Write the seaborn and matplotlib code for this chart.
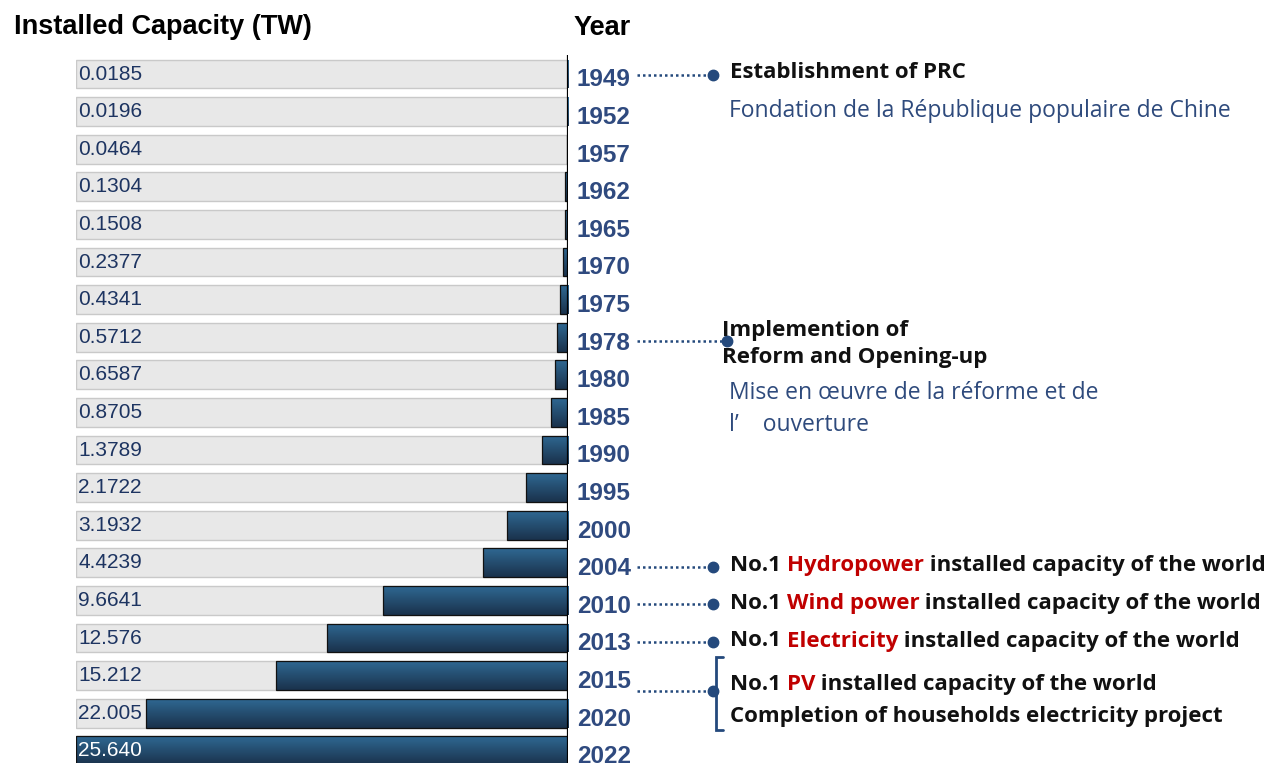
import matplotlib
matplotlib.use("Agg")
import matplotlib.pyplot as plt
import matplotlib.colors as mcolors
from matplotlib import transforms
import numpy as np
import pandas as pd
import seaborn as sns

# chart data
years = ["1949", "1952", "1957", "1962", "1965", "1970", "1975", "1978", "1980", "1985",
         "1990", "1995", "2000", "2004", "2010", "2013", "2015", "2020", "2022"]
capacity = [0.0185, 0.0196, 0.0464, 0.1304, 0.1508, 0.2377, 0.4341, 0.5712, 0.6587, 0.8705,
            1.3789, 2.1722, 3.1932, 4.4239, 9.6641, 12.576, 15.212, 22.005, 25.640]
capacity_labels = ["0.0185", "0.0196", "0.0464", "0.1304", "0.1508", "0.2377", "0.4341", "0.5712",
                   "0.6587", "0.8705", "1.3789", "2.1722", "3.1932", "4.4239", "9.6641", "12.576",
                   "15.212", "22.005", "25.640"]

RED = "#c00000"
INK = "#111111"
single_events = {
    "2004": [("No.1 ", INK), ("Hydropower", RED), (" installed capacity of the world", INK)],
    "2010": [("No.1 ", INK), ("Wind power", RED), (" installed capacity of the world", INK)],
    "2013": [("No.1 ", INK), ("Electricity", RED), (" installed capacity of the world", INK)],
}
pv_line = [("No.1 ", INK), ("PV", RED), (" installed capacity of the world", INK)]
household_line = "Completion of households electricity project"

df = pd.DataFrame({"year": years, "capacity": capacity})
df["full"] = df["capacity"].max()

W, H = 1277, 763
sns.set_theme(style="white")
plt.rcParams["font.family"] = ["Liberation Sans", "DejaVu Sans"]
fig = plt.figure(figsize=(W / 100, H / 100), dpi=100)
fig.patch.set_facecolor("white")

ax = fig.add_axes([76 / W, 0, (568 - 76) / W, (763 - 55) / H])
sns.barplot(data=df, x="full", y="year", orient="h", color="#e8e8e8", edgecolor="#c9c9c9",
            linewidth=1, width=0.77, ax=ax, saturation=1)
sns.barplot(data=df, x="capacity", y="year", orient="h", color="#24506f", edgecolor="#111111",
            linewidth=0.9, width=0.77, ax=ax, saturation=1)

# vertical gradient on the capacity bars
cmap = mcolors.LinearSegmentedColormap.from_list("bar", ["#2f6892", "#1a324c"])
grad = np.linspace(0, 1, 64).reshape(-1, 1)
for p in ax.containers[1]:
    x0, y0, w, h = p.get_x(), p.get_y(), p.get_width(), p.get_height()
    im = ax.imshow(grad, cmap=cmap, extent=(x0, x0 + w, y0 + h, y0), origin="upper",
                   aspect="auto", zorder=p.get_zorder() + 0.1, interpolation="bilinear")
    im.set_clip_path(p)
    p.set_facecolor("none")
    p.set_zorder(p.get_zorder() + 0.2)

xmax = df["capacity"].max()
ax.set_xlim(xmax, 0)
ax.set_ylim((763 - 74) / 37.6, -(74 - 55) / 37.6)
ax.axis("off")
ax.axvline(0, color="black", lw=1.6, zorder=5)

ytr = ax.get_yaxis_transform()
for i, (yr, lab) in enumerate(zip(years, capacity_labels)):
    col = "white" if i == len(years) - 1 else "#1d3461"
    ax.text(0.005, i, lab, transform=ytr, ha="left", va="center", fontsize=15, color=col, zorder=6)
    ax.text(1.0, i, yr, transform=transforms.offset_copy(ytr, fig, x=9, y=-6, units="dots"),
            ha="left", va="center", fontsize=17.5, fontweight="bold", color="#2f4a7f",
            clip_on=False)

fig.text(14 / W, 1 - 27 / H, "Installed Capacity (TW)", fontsize=19.5, fontweight="bold",
         ha="left", va="center", color="black")
fig.text(574 / W, 1 - 28 / H, "Year", fontsize=19.5, fontweight="bold", ha="left", va="center",
         color="black")

# annotations: x in figure pixels, y in bar rows (text nudged down a few pixels)
bt = transforms.blended_transform_factory(fig.transFigure, ax.transData)
tt = transforms.offset_copy(bt, fig, x=0, y=-3, units="dots")
ANN = ["Open Sans", "DejaVu Sans"]
LINE_C = "#24497c"
FR_C = "#2e4a7c"


def fx(px):
    return px / W


def connector(y, x_end):
    ax.plot([fx(637), fx(x_end - 4)], [y, y], transform=bt, ls=(0, (1, 1.2)), lw=1.8,
            color=LINE_C, clip_on=False)
    ax.plot([fx(x_end)], [y], transform=bt, marker="o", ms=7.5, color=LINE_C, clip_on=False)


def colored_line(x_px, y, parts, size=16):
    t = ax.text(fx(x_px), y, parts[0][0], transform=tt, ha="left", va="center", fontsize=size,
                fontweight="bold", color=parts[0][1], family=ANN, clip_on=False)
    for s, c in parts[1:]:
        t = ax.annotate(s, xy=(1, 0), xycoords=t, ha="left", va="bottom", fontsize=size,
                        fontweight="bold", color=c, family=ANN, annotation_clip=False)


def french(x_px, y, s):
    ax.text(fx(x_px), y, s, transform=tt, ha="left", va="center", fontsize=16.5, color=FR_C,
            family=ANN, clip_on=False)


def row(yr):
    return years.index(yr)


# 1949
r = row("1949")
connector(r + 0.03, 713)
colored_line(730, r - 0.12, [("Establishment of PRC", INK)])
french(729, r + 0.9, "Fondation de la République populaire de Chine")

# 1978
r = row("1978")
connector(r + 0.1, 727)
colored_line(722, r - 0.25, [("Implemention of", INK)])
colored_line(722, r + 0.45, [("Reform and Opening-up", INK)])
french(729, r + 1.41, "Mise en œuvre de la réforme et de")
french(729, r + 2.26, "l’    ouverture")

for yr, parts in single_events.items():
    r = row(yr)
    connector(r + 0.1, 713)
    colored_line(730, r, parts)

# 2015 / 2020 bracket
r = row("2015")
connector(r + 0.4, 713)
ax.plot([fx(723), fx(716), fx(716), fx(723)], [r - 0.5, r - 0.5, r + 1.45, r + 1.45],
        transform=bt, color=LINE_C, lw=2, clip_on=False, solid_joinstyle="miter")
colored_line(730, r + 0.15, pv_line)
colored_line(730, r + 1.0, [(household_line, INK)])

fig.savefig("out.png", dpi=100, facecolor="white")
